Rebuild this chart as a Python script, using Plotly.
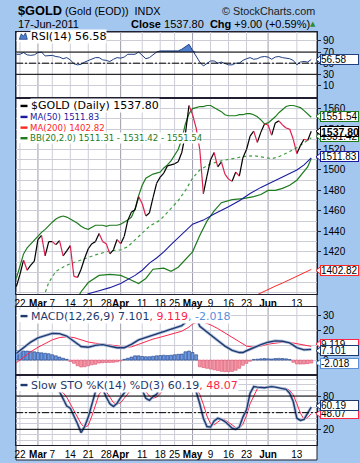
import plotly.graph_objects as go

# ---------------- data ----------------
dates = [
    "2011-02-18", "2011-02-22", "2011-02-23", "2011-02-24", "2011-02-25", "2011-02-28",
    "2011-03-01", "2011-03-02", "2011-03-03", "2011-03-04", "2011-03-07", "2011-03-08", "2011-03-09", "2011-03-10", "2011-03-11",
    "2011-03-14", "2011-03-15", "2011-03-16", "2011-03-17", "2011-03-18", "2011-03-21", "2011-03-22", "2011-03-23", "2011-03-24", "2011-03-25",
    "2011-03-28", "2011-03-29", "2011-03-30", "2011-03-31", "2011-04-01",
    "2011-04-04", "2011-04-05", "2011-04-06", "2011-04-07", "2011-04-08", "2011-04-11", "2011-04-12", "2011-04-13", "2011-04-14", "2011-04-15",
    "2011-04-18", "2011-04-19", "2011-04-20", "2011-04-21", "2011-04-25", "2011-04-26", "2011-04-27", "2011-04-28", "2011-04-29",
    "2011-05-02", "2011-05-03", "2011-05-04", "2011-05-05", "2011-05-06", "2011-05-09", "2011-05-10", "2011-05-11", "2011-05-12", "2011-05-13",
    "2011-05-16", "2011-05-17", "2011-05-18", "2011-05-19", "2011-05-20", "2011-05-23", "2011-05-24", "2011-05-25", "2011-05-26", "2011-05-27",
    "2011-05-31", "2011-06-01", "2011-06-02", "2011-06-03", "2011-06-06", "2011-06-07", "2011-06-08", "2011-06-09", "2011-06-10",
    "2011-06-13", "2011-06-14", "2011-06-15", "2011-06-16", "2011-06-17"]

close = [1386, 1398, 1412, 1402, 1407, 1411, 1432, 1436, 1416, 1430,
         1430, 1427, 1431, 1416, 1421, 1426, 1396, 1395, 1403, 1414,
         1423, 1428, 1430, 1438, 1430, 1428, 1418, 1422, 1432, 1428,
         1435, 1451, 1459, 1461, 1474, 1467, 1455, 1458, 1473, 1487,
         1493, 1497, 1504, 1505, 1506, 1508, 1517, 1535, 1563, 1554,
         1541, 1520, 1477, 1494, 1510, 1517, 1503, 1508, 1496, 1491,
         1489, 1498, 1494, 1512, 1520, 1533, 1538, 1527, 1537, 1545,
         1544, 1534, 1546, 1548, 1544, 1541, 1540, 1530, 1516, 1524,
         1530, 1528.8, 1537.8]

ma50_d = ["2011-03-18", "2011-03-21", "2011-03-24", "2011-03-29", "2011-04-01", "2011-04-05", "2011-04-07",
          "2011-04-11", "2011-04-13", "2011-04-15", "2011-04-19", "2011-04-21", "2011-04-26", "2011-04-28",
          "2011-05-02", "2011-05-05", "2011-05-10", "2011-05-16", "2011-05-19", "2011-05-24", "2011-05-27",
          "2011-06-02", "2011-06-07", "2011-06-13", "2011-06-15", "2011-06-17"]
ma50_v = [1377, 1379, 1382, 1385, 1389, 1393, 1397, 1402, 1409, 1414, 1420, 1427, 1434, 1441,
          1447, 1451, 1457, 1464, 1470, 1477, 1483, 1488, 1493, 1500, 1505, 1511.83]

ma200_d = ["2011-05-25", "2011-05-27", "2011-06-01", "2011-06-03", "2011-06-07", "2011-06-09",
           "2011-06-13", "2011-06-15", "2011-06-17"]
ma200_v = [1376.5, 1380, 1383, 1386.5, 1389.5, 1393, 1396, 1399.5, 1402.82]

bb_upper = [1394, 1405, 1418, 1424, 1428, 1432, 1436, 1439, 1442, 1446,
            1449, 1452, 1454, 1455, 1454, 1452, 1450, 1448, 1445, 1443,
            1442, 1444, 1446, 1446, 1446, 1445, 1446, 1446, 1446, 1447,
            1449, 1451, 1454, 1462, 1475, 1485, 1492, 1494, 1496, 1497,
            1498, 1502, 1505, 1509, 1514, 1520, 1530, 1545, 1555, 1560,
            1561, 1562, 1562, 1563, 1563, 1561, 1559, 1557, 1554, 1553,
            1553, 1553, 1554, 1554, 1555, 1555, 1554, 1552, 1549, 1545,
            1546, 1549, 1552, 1556, 1559, 1562, 1563, 1563, 1562, 1561,
            1558, 1555, 1551.54]

bb_mid_d = ["2011-02-28", "2011-03-03", "2011-03-04", "2011-03-08", "2011-03-11", "2011-03-17", "2011-03-23",
            "2011-03-29", "2011-04-01", "2011-04-05", "2011-04-08", "2011-04-13", "2011-04-18", "2011-04-21",
            "2011-04-26", "2011-04-28", "2011-05-02", "2011-05-04", "2011-05-09", "2011-05-12", "2011-05-17",
            "2011-05-20", "2011-05-25", "2011-05-27", "2011-06-01", "2011-06-02", "2011-06-06", "2011-06-09",
            "2011-06-14", "2011-06-17"]
bb_mid_v = [1360, 1380, 1390, 1401, 1407, 1412, 1417, 1421, 1422, 1425, 1435, 1445, 1451, 1462,
            1470, 1480, 1492, 1500, 1506, 1509, 1511, 1513, 1514, 1513, 1512, 1511, 1513, 1518,
            1524, 1531.42]

bb_low_d = ["2011-03-16", "2011-03-17", "2011-03-21", "2011-03-24", "2011-03-29", "2011-04-01", "2011-04-05",
            "2011-04-08", "2011-04-12", "2011-04-14", "2011-04-19", "2011-04-21", "2011-04-26", "2011-04-28",
            "2011-05-02", "2011-05-04", "2011-05-06", "2011-05-10", "2011-05-12", "2011-05-17", "2011-05-20",
            "2011-05-25", "2011-05-27", "2011-06-01", "2011-06-03", "2011-06-07", "2011-06-09", "2011-06-13",
            "2011-06-15", "2011-06-16", "2011-06-17"]
bb_low_v = [1375, 1381, 1390, 1397, 1398, 1397, 1394, 1389, 1394, 1403, 1404, 1401, 1405, 1412,
            1420, 1436, 1450, 1460, 1468, 1471, 1472, 1474, 1476, 1480, 1480, 1482, 1485, 1490,
            1498, 1503, 1511.31]

rsi = [66, 66, 69, 65, 64, 65, 69, 70, 63, 63,
       64, 62, 61, 58, 60, 56, 49, 47, 48, 52,
       55, 57, 60, 60, 56, 55, 53, 57, 60, 59,
       61, 66, 66, 66, 70, 64, 58, 60, 65, 70,
       72, 72, 72, 72, 72, 72, 75, 80, 84, 73,
       62, 52, 45, 50, 54, 54, 50, 52, 49, 47,
       47, 50, 50, 55, 58, 60, 57, 58, 61, 62,
       61, 57, 61, 62, 60, 59, 58, 55, 47, 52,
       53, 52, 56.58]

macd_d = ["2011-02-18", "2011-02-23", "2011-02-25", "2011-03-01", "2011-03-03", "2011-03-07", "2011-03-09",
          "2011-03-11", "2011-03-15", "2011-03-17", "2011-03-21", "2011-03-23", "2011-03-25", "2011-03-29",
          "2011-03-31", "2011-04-04", "2011-04-06", "2011-04-08", "2011-04-12", "2011-04-14", "2011-04-18",
          "2011-04-20", "2011-04-25", "2011-04-27", "2011-04-28", "2011-04-29", "2011-05-02", "2011-05-03",
          "2011-05-04", "2011-05-05", "2011-05-09", "2011-05-11", "2011-05-13", "2011-05-17", "2011-05-19",
          "2011-05-20", "2011-05-23", "2011-05-25", "2011-05-27", "2011-06-01", "2011-06-03", "2011-06-07",
          "2011-06-09", "2011-06-13", "2011-06-15", "2011-06-17"]
macd_v = [4.4, 8.5, 12, 14.8, 16.5, 17.8, 17.6, 16, 12.5, 9, 8.5, 9.8, 10.3, 9,
          8.2, 8.2, 10.5, 13.5, 15, 16.5, 18, 19.5, 21, 23, 25, 28, 29.5, 28.5,
          22.5, 20.5, 16.5, 13, 9.3, 6.5, 5, 5, 6.2, 8.3, 10.3, 11.9, 12.8, 12.5,
          11.5, 8.3, 6.8, 7.101]

signal_d = ["2011-02-18", "2011-02-23", "2011-02-25", "2011-03-01", "2011-03-03", "2011-03-07", "2011-03-09",
            "2011-03-11", "2011-03-15", "2011-03-17", "2011-03-21", "2011-03-23", "2011-03-25", "2011-03-29",
            "2011-03-31", "2011-04-04", "2011-04-06", "2011-04-08", "2011-04-12", "2011-04-14", "2011-04-18",
            "2011-04-20", "2011-04-25", "2011-04-27", "2011-04-29", "2011-05-02", "2011-05-03", "2011-05-04",
            "2011-05-05", "2011-05-09", "2011-05-11", "2011-05-13", "2011-05-17", "2011-05-19", "2011-05-23",
            "2011-05-25", "2011-05-27", "2011-06-01", "2011-06-03", "2011-06-07", "2011-06-09", "2011-06-13",
            "2011-06-15", "2011-06-17"]
signal_v = [-1.8, 2, 5.5, 8.5, 11, 13.5, 15, 15.5, 15, 13.5, 12, 11.2, 10.8, 10.3,
            9.5, 8.6, 8.8, 10.5, 12.5, 14, 15.2, 16.5, 17.8, 19.2, 22, 24, 25, 25.5,
            25.3, 23.5, 21, 18, 15, 12.5, 9.3, 8.6, 9.3, 10.6, 11.5, 11.9, 11.8, 10.9,
            9.9, 9.119]

hist = [6.2, 6.2, 6.0, 6.0, 5.8, 5.5, 5.0, 4.8, 4.5, 4.2,
        3.5, 2.8, 2.0, 1.2, 0.5, -1.0, -2.2, -3.8, -4.6, -4.5,
        -3.8, -3.2, -2.8, -2.0, -1.8, -1.6, -1.6, -1.5, -1.2, -0.6,
        0.5, 1.2, 2.0, 2.8, 2.8, 2.4, 2.2, 2.2, 2.5, 2.8,
        3.0, 3.2, 3.0, 3.2, 3.5, 3.8, 4.0, 5.5, 6.0, 5.0,
        3.5, -4.5, -5.0, -5.5, -6.0, -6.5, -7.0, -7.5, -7.8, -7.8,
        -7.6, -6.8, -5.5, -3.5, -2.2, -0.8, 0.4, 0.6, 0.8, 1.0,
        0.8, 0.7, 1.0, 1.1, 1.0, 0.8, 0.3, -1.5, -2.6, -2.7,
        -2.6, -2.4, -2.018]

sto_k = [95, 96, 98, 95, 93, 95, 97, 96, 92, 90,
         89, 91, 88, 75, 62, 58, 45, 30, 14, 25,
         42, 65, 88, 96, 93, 78, 66, 61, 67, 77,
         85, 94, 98, 97, 96, 91, 76, 72, 79, 83,
         94, 97, 98, 97, 96, 97, 98, 99, 100, 95,
         88, 66, 40, 25, 24, 35, 40, 38, 34, 28,
         22, 20, 24, 42, 55, 85, 97, 96, 95, 95,
         96, 97, 96, 95, 94, 92, 85, 70, 40, 36,
         38, 48, 60.19]

sto_d = [94, 95, 96, 96, 95, 94, 95, 96, 95, 93,
         91, 90, 90, 86, 78, 66, 55, 44, 30, 23,
         27, 44, 65, 83, 91, 88, 78, 68, 65, 68,
         76, 85, 92, 96, 97, 95, 88, 80, 76, 78,
         85, 91, 96, 97, 97, 97, 97, 98, 99, 98,
         94, 83, 65, 44, 30, 28, 33, 38, 37, 33,
         28, 23, 22, 29, 45, 66, 79, 93, 96, 95,
         95, 96, 96, 95, 94, 94, 90, 82, 66, 49,
         38, 41, 48.07]

tick_dates = ["2011-02-22", "2011-03-01", "2011-03-07", "2011-03-14", "2011-03-21", "2011-03-28",
              "2011-04-01", "2011-04-11", "2011-04-18", "2011-04-25", "2011-05-02", "2011-05-09",
              "2011-05-16", "2011-05-23", "2011-06-01", "2011-06-13"]
tick_text = ["22", "<b>Mar</b>", "7", "14", "21", "28", "<b>Apr</b>", "11", "18", "25",
             "<b>May</b>", "9", "16", "23", "<b>Jun</b>", "13"]
month_dates = ["2011-03-01", "2011-04-01", "2011-05-02", "2011-06-01"]

# ---------------- geometry / style ----------------
W, H = 360, 463
L, R, T, B = 16, 43.3, 31.7, 18
PW, PH = W - L - R, H - T - B


def px(X):
    return (X - L) / PW


def py(Y):
    return (H - B - Y) / PH


BG = "#a4c7ef"
GRID = "#cdcdd8"
MGRID = "#9c9cab"
BORDER = "#202030"
UP, DN = "#000000", "#e2204f"
C_MA50, C_MA200 = "#1a1aa0", "#ff2626"
C_BB, C_BBM = "#1e7b1e", "#3f9f3f"
C_RSI, C_RSIF = "#1f3f80", "#4f80d0"
C_MACD, C_HALO, C_SIG = "#1f3a6e", "#b3c1dd", "#ff2448"
C_HP, C_HPL, C_HN, C_HNL = "#6a9ae6", "#1f3a80", "#f497a4", "#d85070"
C_LB = "#5b8fd8"
LEG = "DejaVu Sans"
HDR = "Liberation Sans"

fig = go.Figure()

# ---- RSI panel ----
fig.add_trace(go.Scatter(x=dates, y=[70] * len(dates), mode="lines", line=dict(width=0),
                         hoverinfo="skip", xaxis="x", yaxis="y", showlegend=False))
fig.add_trace(go.Scatter(x=dates, y=[max(v, 70) for v in rsi], mode="lines", line=dict(width=0),
                         fill="tonexty", fillcolor=C_RSIF, hoverinfo="skip",
                         xaxis="x", yaxis="y", showlegend=False))
fig.add_trace(go.Scatter(x=dates, y=rsi, mode="lines", line=dict(color=C_RSI, width=1),
                         xaxis="x", yaxis="y", showlegend=False))

# ---- main price panel ----
fig.add_trace(go.Scatter(x=bb_mid_d, y=bb_mid_v, mode="lines",
                         line=dict(color=C_BBM, width=1.2, dash="dot"), xaxis="x2", yaxis="y2", showlegend=False))
fig.add_trace(go.Scatter(x=dates, y=bb_upper, mode="lines", line=dict(color=C_BB, width=1.2),
                         xaxis="x2", yaxis="y2", showlegend=False))
fig.add_trace(go.Scatter(x=bb_low_d, y=bb_low_v, mode="lines", line=dict(color=C_BB, width=1.2),
                         xaxis="x2", yaxis="y2", showlegend=False))
fig.add_trace(go.Scatter(x=ma200_d, y=ma200_v, mode="lines", line=dict(color=C_MA200, width=1),
                         xaxis="x2", yaxis="y2", showlegend=False))
fig.add_trace(go.Scatter(x=ma50_d, y=ma50_v, mode="lines", line=dict(color=C_MA50, width=1.1),
                         xaxis="x2", yaxis="y2", showlegend=False))
bx, by, rx, ry = [], [], [], []
for i in range(1, len(close)):
    if close[i] < close[i - 1]:
        rx += [dates[i - 1], dates[i], None]
        ry += [close[i - 1], close[i], None]
    else:
        bx += [dates[i - 1], dates[i], None]
        by += [close[i - 1], close[i], None]
fig.add_trace(go.Scatter(x=bx, y=by, mode="lines", line=dict(color=UP, width=1.2),
                         xaxis="x2", yaxis="y2", showlegend=False, connectgaps=False))
fig.add_trace(go.Scatter(x=rx, y=ry, mode="lines", line=dict(color=DN, width=1.2),
                         xaxis="x2", yaxis="y2", showlegend=False, connectgaps=False))

# ---- MACD panel ----
fig.add_trace(go.Bar(x=dates, y=hist, width=0.8,
                     marker=dict(color=[C_HP if v >= 0 else C_HN for v in hist],
                                 line=dict(color=[C_HPL if v >= 0 else C_HNL for v in hist], width=0.6)),
                     xaxis="x3", yaxis="y3", showlegend=False))
fig.add_trace(go.Scatter(x=signal_d, y=signal_v, mode="lines", line=dict(color=C_SIG, width=1),
                         xaxis="x3", yaxis="y3", showlegend=False))
fig.add_trace(go.Scatter(x=macd_d, y=macd_v, mode="lines", line=dict(color=C_HALO, width=3),
                         xaxis="x3", yaxis="y3", showlegend=False, hoverinfo="skip"))
fig.add_trace(go.Scatter(x=macd_d, y=macd_v, mode="lines", line=dict(color=C_MACD, width=1.4),
                         xaxis="x3", yaxis="y3", showlegend=False))

# ---- Slow stochastic panel ----
fig.add_trace(go.Scatter(x=dates, y=sto_d, mode="lines", line=dict(color=C_SIG, width=1),
                         xaxis="x4", yaxis="y4", showlegend=False))
fig.add_trace(go.Scatter(x=dates, y=sto_k, mode="lines", line=dict(color=C_HALO, width=3),
                         xaxis="x4", yaxis="y4", showlegend=False, hoverinfo="skip"))
fig.add_trace(go.Scatter(x=dates, y=sto_k, mode="lines", line=dict(color=C_MACD, width=1.4),
                         xaxis="x4", yaxis="y4", showlegend=False))


# ---------------- axes ----------------
def xax(show_labels, anchor, match=True):
    d = dict(type="category", categoryorder="array", categoryarray=dates,
             range=[-0.1, 83.6], tickmode="array", tickvals=tick_dates, ticktext=tick_text,
             showticklabels=show_labels, showgrid=False,
             zeroline=False, showline=True, mirror=True, linecolor=BORDER, linewidth=1,
             ticks="", tickangle=0, tickfont=dict(family=HDR, size=10, color="black"),
             anchor=anchor, fixedrange=True)
    if match:
        d["matches"] = "x"
    return d


def yax(domain, rng, tickvals, anchor, minor=None):
    d = dict(domain=domain, range=rng, side="right", anchor=anchor, tickmode="array",
             tickvals=tickvals, showgrid=True, gridcolor=GRID, gridwidth=1, zeroline=False,
             showline=True, mirror=True, linecolor=BORDER, linewidth=1, ticks="outside",
             ticklen=3, tickcolor=BORDER, tickfont=dict(family=HDR, size=10, color="black"),
             fixedrange=True)
    if minor:
        d["minor"] = minor
    return d


dom_rsi = [py(98), 1]
dom_main = [py(294.3), py(98)]
dom_macd = [py(375), py(307.3)]
dom_sto = [0, py(375)]

layout = dict(
    width=W, height=H, margin=dict(l=L, r=R, t=T, b=B, autoexpand=False),
    paper_bgcolor=BG, plot_bgcolor="rgba(0,0,0,0)", showlegend=False, bargap=0,
    font=dict(family=LEG, size=10, color="black"),
    xaxis=xax(False, "y", match=False),
    xaxis2=xax(True, "y2"),
    xaxis3=xax(False, "y3"),
    xaxis4=xax(True, "y4"),
    yaxis=yax(dom_rsi, [-13, 106], [10, 30, 50, 70, 90], "x"),
    yaxis2=yax(dom_main, [1378.4, 1570.1], list(range(1400, 1561, 20)), "x2",
               minor=dict(tickvals=list(range(1380, 1571, 10)), showgrid=True, gridcolor=GRID, ticks="")),
    yaxis3=yax(dom_macd, [-10, 35.1], [0, 10, 20, 30], "x3",
               minor=dict(tickvals=[-10, 0, 10, 20, 30], showgrid=True, gridcolor=GRID, ticks="")),
    yaxis4=yax(dom_sto, [-8.3, 117.8], [20, 50, 80], "x4",
               minor=dict(tickvals=list(range(0, 111, 10)), showgrid=True, gridcolor=GRID, ticks="")),
)
fig.update_layout(**layout)

shapes = []
# white chart box
shapes.append(dict(type="rect", xref="paper", yref="paper", x0=0, x1=1, y0=py(460), y1=1,
                   fillcolor="white", line=dict(color=BORDER, width=1), layer="below"))
# vertical grid lines (weekly light, month starts darker), one set per panel
for xr, dom in [("x", dom_rsi), ("x2", dom_main), ("x3", dom_macd), ("x4", dom_sto)]:
    for d in tick_dates:
        if d in month_dates:
            continue
        shapes.append(dict(type="line", xref=xr, yref="paper", x0=d, x1=d, y0=dom[0], y1=dom[1],
                           line=dict(color=GRID, width=1), layer="below"))
    for m in month_dates:
        shapes.append(dict(type="line", xref=xr, yref="paper", x0=m, x1=m, y0=dom[0], y1=dom[1],
                           line=dict(color=MGRID, width=1), layer="below"))
# reference lines RSI & STO
for yr, dom, lv in [("y", dom_rsi, (70, 30)), ("y4", dom_sto, (80, 20))]:
    for v in lv:
        shapes.append(dict(type="line", xref="paper", yref=yr, x0=0, x1=1, y0=v, y1=v,
                           line=dict(color="black", width=1), layer="above"))
    shapes.append(dict(type="line", xref="paper", yref=yr, x0=0, x1=1, y0=50, y1=50,
                       line=dict(color="black", width=1, dash="7px,2px,2px,2px"), layer="above"))

annots = []

# legend rows: (y pixel, dash colour, text, font size, text colour)
legend_rows = [
    (105.7, "black", "$GOLD (Daily) 1537.80", 11, "black"),
    (116.7, C_MA50, "MA(50) 1511.83", 8.6, C_MA50),
    (127.4, C_MA200, "MA(200) 1402.82", 8.6, C_MA200),
    (138.0, C_BB, "BB(20,2.0) 1511.31 - 1531.42 - 1551.54", 8.6, C_BB),
    (316.0, C_MACD, "MACD(12,26,9) 7.101<span style='color:%s'>, 9.119</span>"
                    "<span style='color:%s'>, -2.018</span>" % (C_SIG, C_LB), 11, C_MACD),
    (385.0, C_MACD, "Slow STO %%K(14) %%D(3) 60.19<span style='color:%s'>, 48.07</span>" % C_SIG, 11, C_MACD),
]
for yv, dc, txt, fs, tc in legend_rows:
    hh = 6 if fs > 10 else 5
    shapes.append(dict(type="rect", xref="paper", yref="paper", x0=px(17), x1=px(31), y0=py(yv + hh),
                       y1=py(yv - hh), fillcolor="white", line=dict(width=0), layer="above"))
    shapes.append(dict(type="line", xref="paper", yref="paper", x0=px(20.5), x1=px(27.5), y0=py(yv),
                       y1=py(yv), line=dict(color=dc, width=2.4), layer="above"))
    annots.append(dict(xref="paper", yref="paper", x=px(30 if fs > 10 else 29), y=py(yv), xanchor="left",
                       yanchor="middle", text=txt, showarrow=False, bgcolor="white", borderpad=0,
                       font=dict(family=LEG, size=fs, color=tc)))

# RSI legend with icon
shapes.append(dict(type="rect", xref="paper", yref="paper", x0=px(17), x1=px(31), y0=py(42), y1=py(31.8),
                   fillcolor="white", line=dict(width=0), layer="above"))
shapes.append(dict(type="path", xref="paper", yref="paper",
                   path="M %f,%f L %f,%f L %f,%f L %f,%f L %f,%f Z" % (
                       px(19.3), py(39), px(21.3), py(33.5), px(23.3), py(36), px(25.5), py(32.6),
                       px(27.3), py(39)),
                   fillcolor=C_RSIF, line=dict(color=C_RSI, width=0.8), layer="above"))
annots.append(dict(xref="paper", yref="paper", x=px(30), y=py(36.2), xanchor="left", yanchor="middle",
                   text="RSI(14) 56.58", showarrow=False, bgcolor="white", borderpad=0,
                   font=dict(family=LEG, size=11, color="black")))

# value tags on the right: (yref, value, text, colour, bold, yshift)
tags = [
    ("y", 56.58, "56.58", C_RSI, False, 0),
    ("y2", 1531.42, "1531.42", C_BB, False, 1.5),
    ("y2", 1537.80, "1537.80", "black", True, 0),
    ("y2", 1551.54, "1551.54", C_BB, False, 1),
    ("y2", 1511.83, "1511.83", C_MA50, False, 1),
    ("y2", 1402.82, "1402.82", C_MA200, False, -1),
    ("y3", 9.119, "9.119", C_SIG, False, 2.3),
    ("y3", 7.101, "7.101", C_MACD, False, -1.4),
    ("y3", -2.018, "-2.018", C_LB, False, 0),
    ("y4", 48.07, "48.07", C_SIG, False, 0),
    ("y4", 60.19, "60.19", C_MACD, False, 1.2),
]
for yref, v, txt, col, bold, ys in tags:
    shapes.append(dict(type="path", xref="paper", yref=yref, xsizemode="pixel", ysizemode="pixel",
                       xanchor=1, yanchor=v,
                       path="M -1,%f L 5,%f L 5,%f Z" % (ys, ys + 5, ys - 5),
                       fillcolor="white", line=dict(color=col, width=1), layer="above"))
    annots.append(dict(xref="paper", yref=yref, x=1, y=v, xanchor="left", yanchor="middle",
                       xshift=3, yshift=ys, text="<b>%s</b>" % txt if bold else txt,
                       showarrow=False, bgcolor="white", bordercolor=col, borderwidth=1,
                       borderpad=0, width=37, height=9, align="left",
                       font=dict(family=HDR, size=10 if not bold else 10.5, color="black")))

# header
annots += [
    dict(xref="paper", yref="paper", x=px(16.3), y=py(10), xanchor="left", yanchor="middle",
         text="<b>$GOLD</b>", showarrow=False, font=dict(family=HDR, size=12.8, color="black")),
    dict(xref="paper", yref="paper", x=px(63), y=py(10.3), xanchor="left", yanchor="middle",
         text="(Gold (EOD))  INDX", showarrow=False, font=dict(family=HDR, size=10.8, color="black")),
    dict(xref="paper", yref="paper", x=px(316.5), y=py(10.3), xanchor="right", yanchor="middle",
         text="© StockCharts.com", showarrow=False, font=dict(family=HDR, size=10.8, color="#202020")),
    dict(xref="paper", yref="paper", x=px(16.3), y=py(23.6), xanchor="left", yanchor="middle",
         text="17-Jun-2011", showarrow=False, font=dict(family=HDR, size=11, color="black")),
    dict(xref="paper", yref="paper", x=px(129), y=py(23.6), xanchor="left", yanchor="middle",
         text="<b>Close</b> 1537.80  <b>Chg</b> +9.00 (+0.59%)", showarrow=False,
         font=dict(family=HDR, size=11, color="black")),
    dict(xref="paper", yref="paper", x=px(312.5), y=py(24), xanchor="center", yanchor="middle",
         text="▲", showarrow=False, font=dict(family=LEG, size=7, color="#2e8b2e")),
]

fig.update_layout(shapes=shapes, annotations=annots)
fig.write_html("out.html", config={"displayModeBar": False, "staticPlot": True},
               post_script="document.body.style.margin='0';document.body.style.background='%s';" % BG)
